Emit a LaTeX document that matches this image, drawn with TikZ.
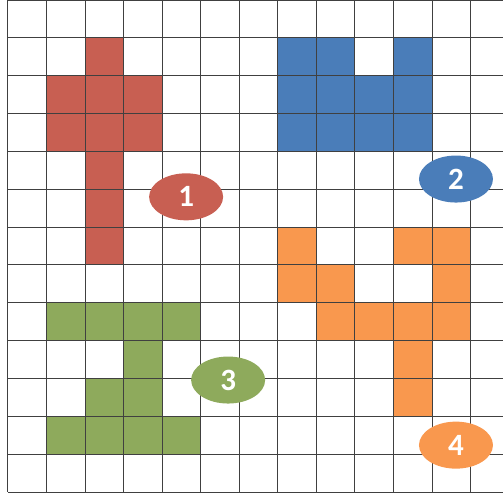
\documentclass[tikz,border=0pt]{standalone}
\usepackage{fontspec}
\setsansfont{Carlito}
\usetikzlibrary{shapes.geometric,positioning}
\definecolor{redfig}{RGB}{200,95,82}
\definecolor{bluefig}{RGB}{74,125,185}
\definecolor{greenfig}{RGB}{142,170,92}
\definecolor{orangefig}{RGB}{249,152,78}
\tikzset{
	gridline/.style={draw=black!75, line width=1pt},
	tag/.style={
		ellipse, inner sep=0pt,
		minimum width=74pt, minimum height=47pt,
		text=white, font=\sffamily\bfseries\fontsize{31}{31}\selectfont
	},
}

\begin{document}
\begin{tikzpicture}[x={(38.55pt,0)}, y={(0,-37.85pt)}]
	\useasboundingbox (-0.2075,0) rectangle (12.84,13.08);
	
	% the four figures, cell by cell (column/row from top left)
	\foreach \c/\r in {2/1,1/2,2/2,3/2,1/3,2/3,3/3,2/4,2/5,2/6}
		\fill[redfig] (\c,\r) rectangle ++(1,1);
	\foreach \c/\r in {7/1,8/1,10/1,7/2,8/2,9/2,10/2,7/3,8/3,9/3,10/3}
		\fill[bluefig] (\c,\r) rectangle ++(1,1);
	\foreach \c/\r in {1/8,2/8,3/8,4/8,3/9,2/10,3/10,1/11,2/11,3/11,4/11}
		\fill[greenfig] (\c,\r) rectangle ++(1,1);
	\foreach \c/\r in {7/6,10/6,11/6,7/7,8/7,11/7,8/8,9/8,10/8,11/8,10/9,10/10}
		\fill[orangefig] (\c,\r) rectangle ++(1,1);
	
	% grid
	\foreach \i in {0,...,12}
		\draw[gridline] (\i,0) -- (\i,13);
	\foreach \j in {0,...,13}
		\draw[gridline] (0,\j) -- (12.84,\j);
	
	\node[tag, fill=redfig]    (one)   at (4.62,5.2)   {1};
	\node[tag, fill=bluefig]   (two)   at (11.62,4.73) {2};
	\node[tag, fill=greenfig]  (three) at (5.71,10.04) {3};
	\node[tag, fill=orangefig] (four)  at (11.62,11.76) {4};
\end{tikzpicture}
\end{document}
